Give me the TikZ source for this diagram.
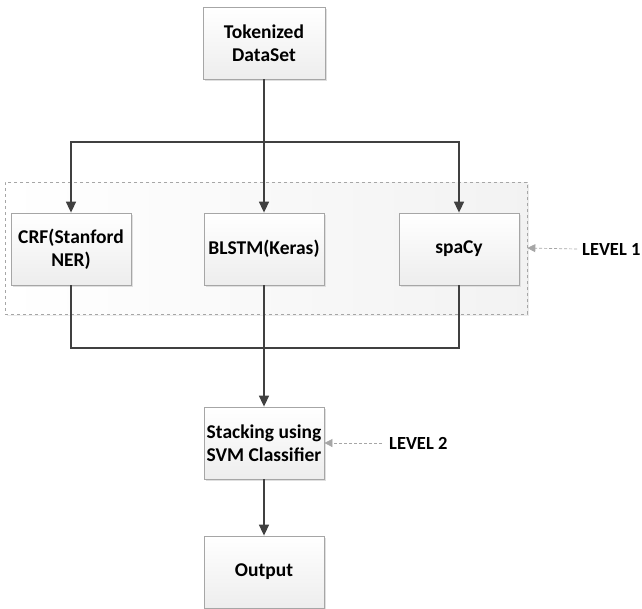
\documentclass[tikz,border=0pt]{standalone}
\usepackage{fontspec}
\setmainfont{Carlito}
\usetikzlibrary{arrows.meta,shadows}
\begin{document}
\begin{tikzpicture}[x=1pt,y=-1pt,
  box/.style={rectangle, draw=gray!70, line width=0.8pt, top color=white, bottom color=gray!14,
    minimum width=120pt, minimum height=72pt, align=center, inner sep=2pt, font=\bfseries\fontsize{19.5}{23}\selectfont,
    copy shadow={shadow xshift=2pt, shadow yshift=-2pt, draw=none, fill=gray!25}},
  grp/.style={rectangle, draw=gray!70, dashed, line width=0.6pt, left color=white, right color=gray!10,
    minimum width=522pt, minimum height=132pt,
    copy shadow={shadow xshift=2pt, shadow yshift=-2pt, draw=none, fill=gray!15}},
  conn/.style={draw=black!75, line width=1.6pt},
  arr/.style={conn, -{Triangle[length=11pt,width=10pt]}},
  lvl/.style={font=\bfseries\fontsize{18.5}{22}\selectfont, anchor=west, inner sep=0pt},
  lvlarr/.style={draw=gray!70, dash pattern=on 3pt off 2pt, line width=0.7pt, -{Triangle[length=8pt,width=8pt]}}
]
\useasboundingbox (0,0) rectangle (642,608);
\node[grp] (group) at (266,248) {};
\node[box, minimum width=122pt] (tok) at (264,43) {Tokenized\\DataSet};
\node[box] (crf) at (71,249) {CRF(Stanford\\NER)};
\node[box] (blstm) at (264,249) {BLSTM(Keras)};
\node[box] (spacy) at (459,249) {spaCy};
\node[box] (stack) at (264,443) {Stacking using\\SVM Classifier};
\node[box] (out) at (264,572) {Output};
\coordinate (split) at (264,142);
\coordinate (merge) at (264,348);
\draw[conn] (tok.south) -- (split);
\draw[arr] (split) -| (crf.north);
\draw[arr] (split) -- (blstm.north);
\draw[arr] (split) -| (spacy.north);
\draw[conn] (crf.south) |- (merge);
\draw[conn] (spacy.south) |- (merge);
\draw[arr] (blstm.south) -- (stack.north);
\draw[arr] (stack.south) -- (out.north);
\node[lvl] (l1) at (582,249) {LEVEL 1};
\node[lvl] (l2) at (389,443) {LEVEL 2};
\draw[lvlarr] (l1.west) ++(-5,0) -- (group.east);
\draw[lvlarr] (l2.west) ++(-7,0) -- (stack.east);
\end{tikzpicture}
\end{document}
